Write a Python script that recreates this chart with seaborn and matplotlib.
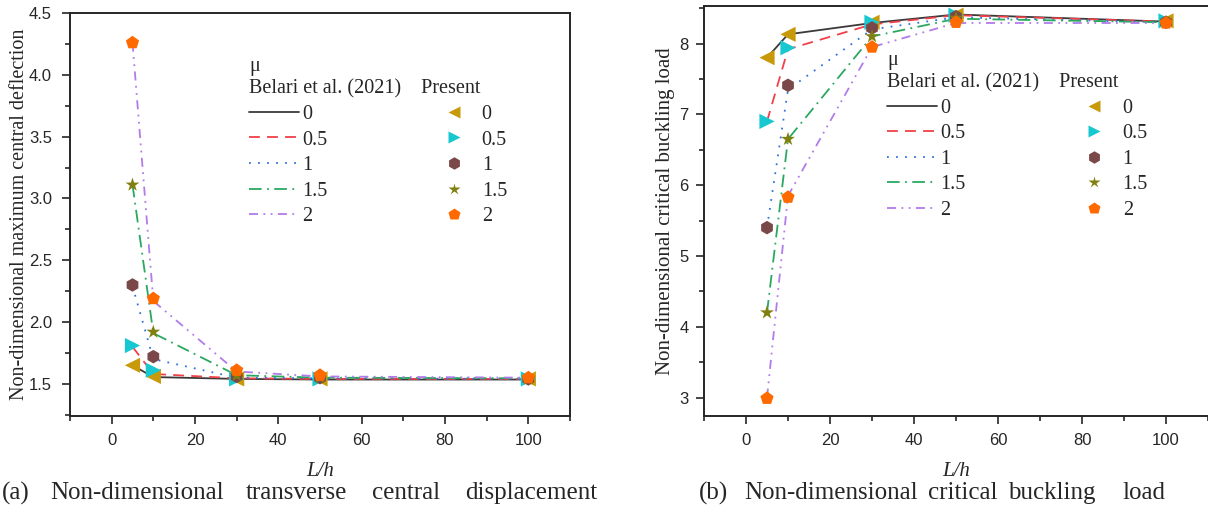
import numpy as np
import pandas as pd
import matplotlib
matplotlib.use("Agg")
import matplotlib.pyplot as plt
import seaborn as sns
from matplotlib.lines import Line2D
from matplotlib.ticker import MultipleLocator

# data
L_h = [5, 10, 30, 50, 100]
mu = ["0", "0.5", "1", "1.5", "2"]

defl_belari = [
    [1.65, 1.555, 1.54, 1.535, 1.535],
    [1.80, 1.58, 1.545, 1.54, 1.54],
    [2.29, 1.70, 1.55, 1.545, 1.54],
    [3.11, 1.91, 1.57, 1.55, 1.545],
    [4.26, 2.17, 1.60, 1.56, 1.55],
]
defl_present = [
    [1.65, 1.56, 1.54, 1.54, 1.54],
    [1.81, 1.61, 1.54, 1.54, 1.54],
    [2.30, 1.72, 1.56, 1.55, 1.54],
    [3.11, 1.92, 1.57, 1.55, 1.54],
    [4.26, 2.19, 1.61, 1.57, 1.55],
]
buck_belari = [
    [7.80, 8.13, 8.29, 8.41, 8.31],
    [6.90, 7.92, 8.27, 8.40, 8.31],
    [5.40, 7.35, 8.20, 8.37, 8.30],
    [4.20, 6.65, 8.10, 8.35, 8.30],
    [3.00, 5.85, 7.95, 8.29, 8.29],
]
buck_present = [
    [7.80, 8.13, 8.30, 8.40, 8.32],
    [6.90, 7.94, 8.30, 8.40, 8.32],
    [5.40, 7.41, 8.22, 8.38, 8.30],
    [4.20, 6.65, 8.10, 8.36, 8.30],
    [2.99, 5.83, 7.95, 8.30, 8.29],
]

line_colors = ["#3a3a3a", "#f04048", "#2f72e0", "#2aa860", "#b07ce8"]
dash_styles = ["", (6, 4), (1, 4), (7, 3, 1, 3), (5, 3, 1, 3, 1, 3)]
marker_colors = ["#c89a0a", "#18c8d0", "#7a4848", "#808010", "#ff6a00"]
marker_shapes = ["<", ">", "h", "*", "p"]
marker_sizes = [120, 120, 95, 110, 100]


def long_df(values):
    rows = []
    for m, ys in zip(mu, values):
        for x, y in zip(L_h, ys):
            rows.append({"L/h": x, "mu": m, "val": y})
    return pd.DataFrame(rows)


sns.set_style("ticks")
plt.rcParams["font.family"] = ["Liberation Sans", "DejaVu Sans"]
serif = ["Liberation Serif", "DejaVu Serif"]
LEG_FS = 14.5

fig = plt.figure(figsize=(12.08, 5.11), dpi=100)
ax1 = fig.add_axes([70 / 1208, 95 / 511, 500 / 1208, 403 / 511])
ax2 = fig.add_axes([704 / 1208, 95 / 511, 504 / 1208, 410 / 511])


def draw(ax, belari, present):
    df_b = long_df(belari)
    df_p = long_df(present)
    sns.lineplot(data=df_b, x="L/h", y="val", hue="mu", style="mu",
                 palette=line_colors, dashes=dash_styles, linewidth=1.3,
                 legend=False, ax=ax, zorder=2)
    for i, m in enumerate(mu):
        sub = df_p[df_p["mu"] == m]
        sns.scatterplot(data=sub, x="L/h", y="val", color=marker_colors[i],
                        marker=marker_shapes[i], s=marker_sizes[i],
                        edgecolor="none", legend=False, ax=ax, zorder=3)
    ax.set_xlim(-10, 110)
    ax.xaxis.set_major_locator(MultipleLocator(20))
    ax.xaxis.set_minor_locator(MultipleLocator(10))
    ax.set_xlabel("L/h", family=serif, style="italic", fontsize=15, labelpad=10)
    ax.tick_params(axis="both", which="major", length=6, width=1.2,
                   labelsize=12)
    ax.tick_params(axis="x", which="major", pad=6)
    ax.tick_params(axis="both", which="minor", length=3.5, width=1.2)
    for sp in ax.spines.values():
        sp.set_linewidth(1.4)

    lh = [Line2D([], [], color=c, lw=1.3, ls="-" if d == "" else (0, d))
          for c, d in zip(line_colors, dash_styles)]
    mh = [Line2D([], [], ls="", marker=mk, color=c, markersize=9,
                 markeredgecolor="none")
          for mk, c in zip(marker_shapes, marker_colors)]
    return lh, mh


def add_legend(ax, lh, mh, anchor, colsp):
    ax.legend(lh + mh, mu + mu, ncol=2, loc="upper left",
              bbox_to_anchor=anchor, frameon=False, borderpad=0,
              title="μ\nBelari et al. (2021)    Present", alignment="left",
              prop={"family": serif, "size": LEG_FS},
              title_fontproperties={"family": serif, "size": LEG_FS},
              handlelength=2.5, handletextpad=0.15, columnspacing=colsp,
              labelspacing=0.32)


lh, mh = draw(ax1, defl_belari, defl_present)
ax1.set_ylim(1.24, 4.5)
ax1.yaxis.set_major_locator(MultipleLocator(0.5))
ax1.yaxis.set_minor_locator(MultipleLocator(0.25))
ax1.yaxis.set_major_formatter(matplotlib.ticker.FormatStrFormatter("%.1f"))
ax1.tick_params(axis="y", which="major", pad=7)
ax1.set_ylabel("Non-dimensional maximum central deflection", family=serif,
               fontsize=14.5, labelpad=0)
add_legend(ax1, lh, mh, (0.338, 0.915), 5.0)

lh, mh = draw(ax2, buck_belari, buck_present)
ax2.set_ylim(2.74, 8.53)
ax2.yaxis.set_major_locator(MultipleLocator(1))
ax2.yaxis.set_minor_locator(MultipleLocator(0.5))
ax2.tick_params(axis="y", which="major", pad=5)
ax2.spines["right"].set_visible(False)
ax2.set_ylabel("Non-dimensional critical buckling load", family=serif,
               fontsize=15, labelpad=3)
add_legend(ax2, lh, mh, (0.343, 0.915), 5.15)

# justified captions, one word at a time
cap_a = ["(a)", "Non-dimensional", "transverse", "central", "displacement"]
cap_a_x = [2, 50, 246, 372, 465]
cap_b = ["(b)", "Non-dimensional", "critical", "buckling", "load"]
cap_b_x = [699, 744, 928, 1008, 1122]
for words, xs in ((cap_a, cap_a_x), (cap_b, cap_b_x)):
    for w, x in zip(words, xs):
        fig.text(x / 1208, 1 - 493 / 511, w, family=serif, fontsize=18,
                 ha="left", va="center")

fig.savefig("out.png", dpi=100)
